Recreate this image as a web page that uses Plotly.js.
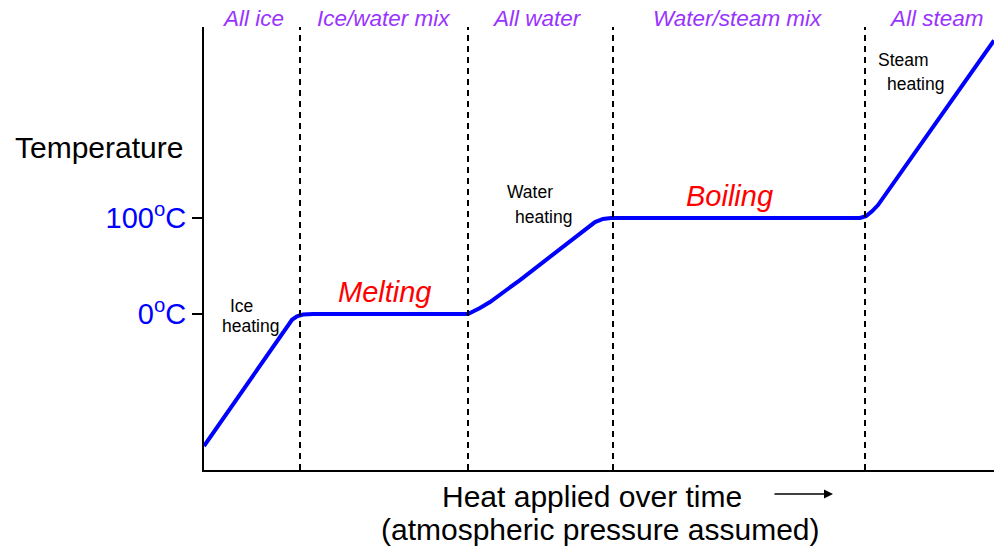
<!DOCTYPE html>
<html>
<head>
<meta charset="utf-8">
<script src="https://cdn.plot.ly/plotly-3.0.1.min.js"></script>
<style>html,body{margin:0;padding:0;background:#fff;}#chart{width:994px;height:550px;}</style>
</head>
<body>
<div id="chart"></div>
<script>
// Heat applied (arbitrary units) and temperature (°C)
const heat = [0, 84, 88, 93, 99, 109, 264, 276, 286, 316, 391, 399, 407, 656, 662, 668, 674, 790];
const temp = [-137.5, -11.5, -6, -2.5, -0.5, 0, 0, 6.3, 12.5, 35.4, 95.8, 99, 100, 100, 102, 107, 113.5, 285];

// Phase boundaries (heat units)
const boundaries = [96, 264, 409, 661];

// Phase region labels and their horizontal centres (fraction of plot width)
const phaseLabels = ["All ice", "Ice/water mix", "All water", "Water/steam mix", "All steam"];
const phaseCenters = [0.062, 0.2278, 0.4215, 0.6747, 0.9278];

// Temperature ticks
const tickVals = [0, 100];
const tickText = ["0<sup>o</sup>C", "100<sup>o</sup>C"];

const FONT = "Liberation Sans, Arial, Helvetica, sans-serif";
const purple = "#9933ff";

const shapes = boundaries.map(b => ({
  type: "line", xref: "x", yref: "paper", x0: b, x1: b, y0: 0, y1: 1,
  line: {color: "black", width: 2, dash: "6px,5px"}
}));

const annotations = [];
phaseLabels.forEach((t, i) => annotations.push({
  x: phaseCenters[i], y: 1.0203, xref: "paper", yref: "paper", text: "<i>" + t + "</i>", showarrow: false,
  font: {family: FONT, size: 22.5, color: purple}, xanchor: "center", yanchor: "middle"
}));

function dataText(x, y, text, size, color) {
  return {x: x, y: y, xref: "x", yref: "y", text: text, showarrow: false,
          font: {family: FONT, size: size, color: color}, xanchor: "center", yanchor: "middle"};
}
function paperText(x, y, text, size, color) {
  return {x: x, y: y, xref: "paper", yref: "paper", text: text, showarrow: false,
          font: {family: FONT, size: size, color: color}, xanchor: "center", yanchor: "middle"};
}

annotations.push(
  paperText(-0.1329, 0.7269, "Temperature", 30, "black"),
  dataText(181, 22.5, "<i>Melting</i>", 29, "red"),
  dataText(525, 123, "<i>Boiling</i>", 29, "red"),
  dataText(37, 8.5, "Ice", 17.5, "black"),
  dataText(46, -12.5, "heating", 17.5, "black"),
  dataText(326, 127, "Water", 17.5, "black"),
  dataText(339, 101, "heating", 17.5, "black"),
  dataText(699, 264.6, "Steam", 17.5, "black"),
  dataText(711, 239.6, "heating", 17.5, "black"),
  paperText(0.4911, -0.0587, "Heat applied over time", 30, "black"),
  paperText(0.5025, -0.1354, "(atmospheric pressure assumed)", 30, "black"),
  {x: 0.7962, y: -0.0542, xref: "paper", yref: "paper", ax: -60, ay: 0, text: "",
   showarrow: true, arrowhead: 2, arrowsize: 1.2, arrowwidth: 1.5, arrowcolor: "black"}
);

const trace = {
  x: heat, y: temp, type: "scatter", mode: "lines",
  line: {color: "#0000ff", width: 4}, hoverinfo: "skip", cliponaxis: false
};

const layout = {
  width: 994, height: 550,
  margin: {l: 204, r: 0, t: 27, b: 80, pad: 0},
  paper_bgcolor: "white", plot_bgcolor: "white",
  showlegend: false,
  font: {family: FONT},
  xaxis: {range: [0, 790], showline: true, linecolor: "black", linewidth: 2,
          showgrid: false, zeroline: false, showticklabels: false, ticks: "", fixedrange: true},
  yaxis: {range: [-162.5, 299], showline: true, linecolor: "black", linewidth: 2,
          showgrid: false, zeroline: false, tickvals: tickVals, ticktext: tickText,
          ticks: "outside", ticklen: 10, tickwidth: 1.5, tickcolor: "black", ticklabelstandoff: 0,
          tickfont: {family: FONT, size: 29, color: "#0000ff"}, fixedrange: true},
  shapes: shapes,
  annotations: annotations
};

Plotly.newPlot("chart", [trace], layout, {displayModeBar: false, staticPlot: true});
</script>
</body>
</html>
